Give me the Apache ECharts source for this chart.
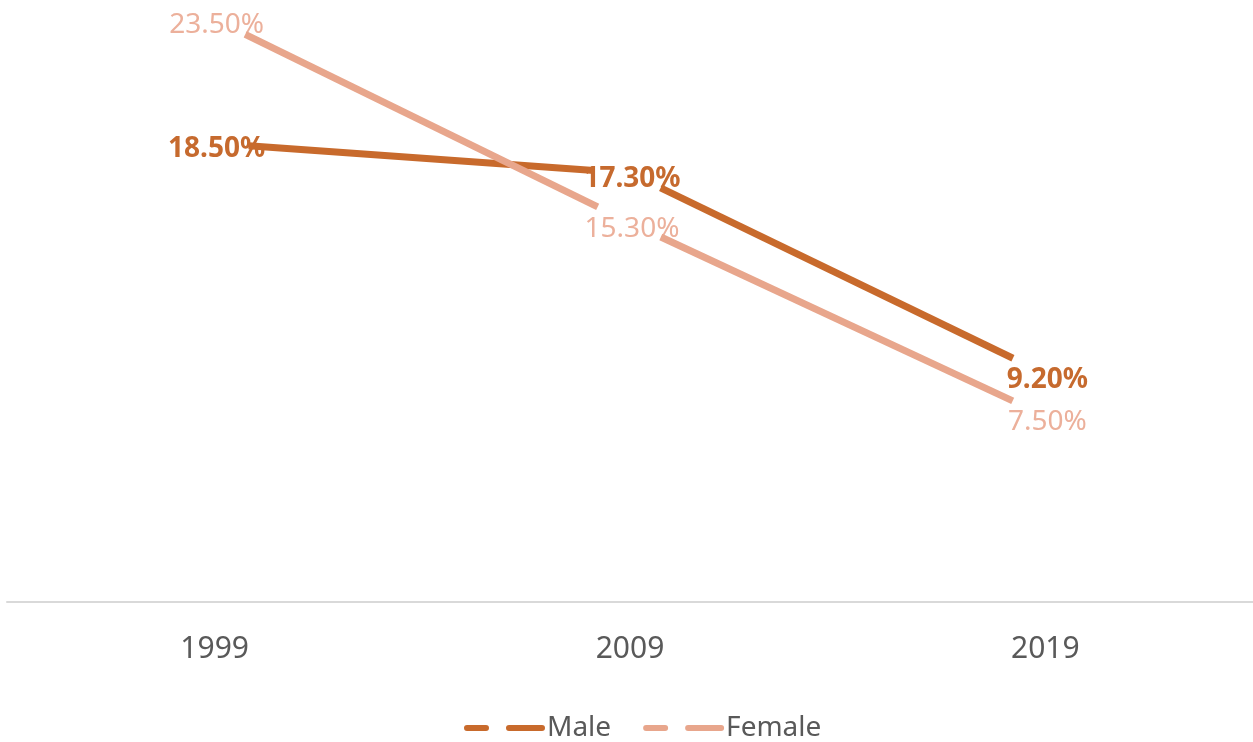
<!DOCTYPE html>
<html>
<head>
<meta charset="utf-8">
<script src="https://cdn.jsdelivr.net/npm/echarts@6/dist/echarts.min.js"></script>
<style>
  html, body { margin: 0; padding: 0; background: #ffffff; }
  #chart { width: 1253px; height: 742px; }
</style>
</head>
<body>
<div id="chart"></div>
<script>
// Share of population by year and sex (%)
const years = ['1999', '2009', '2019'];
const maleValues = [18.5, 17.3, 9.2];
const femaleValues = [23.5, 15.3, 7.5];

const MALE_COLOR = '#C86A2C';
const FEMALE_COLOR = '#E8A68C';
const FONT = '"Noto Sans", "Open Sans", sans-serif';

// Each segment joins two neighbouring points but stops short of both ends,
// leaving a gap around every labelled point.
function segmentSeries(name, values, color, labelColor, labelWeight) {
  const START_GAP = 34;
  const END_GAP = 36;
  return {
    name: name,
    type: 'custom',
    coordinateSystem: 'cartesian2d',
    itemStyle: { color: color },
    data: values.map((v, i) => [i, v]),
    encode: { x: 0, y: 1 },
    renderItem: function (params, api) {
      const i = params.dataIndex;
      const p = api.coord([api.value(0), api.value(1)]);
      const children = [{
        type: 'text',
        z2: 1,
        style: {
          text: values[i].toFixed(2) + '%',
          x: p[0] + 2,
          y: p[1] + 6,
          align: 'center',
          verticalAlign: 'middle',
          font: labelWeight + ' 28px ' + FONT,
          fill: labelColor
        }
      }];
      if (i < values.length - 1) {
        const q = api.coord([i + 1, values[i + 1]]);
        const dx = q[0] - p[0];
        const dy = q[1] - p[1];
        const len = Math.sqrt(dx * dx + dy * dy);
        const ux = dx / len;
        const uy = dy / len;
        children.push({
          type: 'line',
          z2: 2,
          shape: {
            x1: p[0] + ux * START_GAP,
            y1: p[1] + uy * START_GAP,
            x2: q[0] - ux * END_GAP,
            y2: q[1] - uy * END_GAP
          },
          style: { stroke: color, lineWidth: 7, lineCap: 'butt' }
        });
      }
      return { type: 'group', children: children };
    }
  };
}

const dashIcon = 'path://M3,0H22A3,3 0 0 1 22,6H3A3,3 0 0 1 3,0Z M45,0H78A3,3 0 0 1 78,6H45A3,3 0 0 1 45,0Z';

const chart = echarts.init(document.getElementById('chart'), null, { renderer: 'canvas' });
chart.setOption({
  animation: false,
  backgroundColor: '#ffffff',
  grid: { left: 7, right: -14, top: 7, bottom: 140, containLabel: false },
  xAxis: {
    type: 'category',
    data: years,
    boundaryGap: true,
    axisLine: { show: true, lineStyle: { color: '#D9D9D9', width: 2 } },
    axisTick: { show: false },
    axisLabel: {
      margin: 32,
      color: '#595959',
      fontFamily: FONT,
      fontSize: 30
    },
    splitLine: { show: false }
  },
  yAxis: {
    type: 'value',
    min: 0,
    max: 24,
    show: false,
    splitLine: { show: false }
  },
  legend: {
    left: 459,
    top: 709,
    itemWidth: 81,
    itemHeight: 7,
    itemGap: 32,
    textStyle: { color: '#595959', fontFamily: FONT, fontSize: 28, padding: [0, 0, 0, -3] },
    data: [
      { name: 'Male', icon: dashIcon },
      { name: 'Female', icon: dashIcon }
    ]
  },
  series: [
    segmentSeries('Male', maleValues, MALE_COLOR, '#C66A2E', 'bold'),
    segmentSeries('Female', femaleValues, FEMALE_COLOR, '#ECB09B', 'normal')
  ]
});
</script>
</body>
</html>
